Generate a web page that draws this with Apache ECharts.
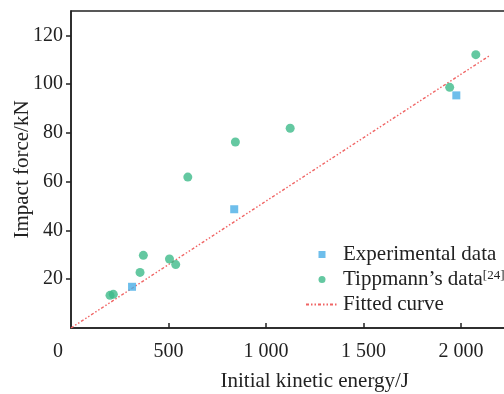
<!DOCTYPE html>
<html>
<head>
<meta charset="utf-8">
<script src="https://cdn.jsdelivr.net/npm/echarts@6/dist/echarts.min.js"></script>
<style>html,body{margin:0;padding:0;background:#fff}#c{width:504px;height:394px}</style>
</head>
<body>
<div id="c"></div>
<script>
const expX = [313, 837, 1976];
const expY = [16.9, 48.7, 95.4];
const tipX = [200, 217, 354, 371, 505, 537, 599, 843, 1124, 1942, 2076];
const tipY = [13.4, 13.8, 22.8, 29.8, 28.3, 26.0, 61.9, 76.3, 81.9, 98.7, 112.1];
const fitX = [0, 2145];
const fitY = [0, 111.6];
const xTickLabels = [0, 500, 1000, 1500, 2000];
const yTickLabels = [20, 40, 60, 80, 100, 120];
const seriesNames = ['Experimental data', 'Tippmann\u2019s data', 'Fitted curve'];

const zip = (a, b) => a.map((v, i) => [v, b[i]]);
const font = 'Liberation Serif';
const red = '#f06464';
const chart = echarts.init(document.getElementById('c'), null, {renderer: 'canvas'});
chart.setOption({
  animation: false,
  backgroundColor: '#fff',
  grid: {left: 71, top: 11, width: 487.5, height: 317, outerBoundsMode: 'none', containLabel: false,
    show: true, borderColor: '#222', borderWidth: 1.5, backgroundColor: 'transparent'},
  legend: {
    orient: 'vertical', left: 300, top: 239, itemWidth: 32, itemHeight: 7, itemGap: 4,
    symbolKeepAspect: true,
    data: [
      {name: seriesNames[0], icon: 'path://M0,0L1,0L1,1L0,1Z'},
      {name: seriesNames[1], icon: 'circle'},
      {name: seriesNames[2], itemStyle: {color: 'rgba(0,0,0,0)', borderWidth: 0, opacity: 0}}
    ],
    textStyle: {fontFamily: font, fontSize: 21, color: '#222',
      rich: {s: {fontFamily: font, fontSize: 13, color: '#222', verticalAlign: 'top', padding: [0, 0, 8, 0]}}},
    formatter: n => n === seriesNames[1] ? n + '{s|[24]}' : n
  },
  xAxis: {
    type: 'value', min: 0, max: 2500,
    name: 'Initial kinetic energy/J', nameLocation: 'middle', nameGap: 43, nameMoveOverlap: false,
    nameTextStyle: {fontFamily: font, fontSize: 21, color: '#222'},
    axisLine: {lineStyle: {color: '#222', width: 1.5}},
    axisTick: {inside: true, length: 5, customValues: xTickLabels.slice(1), lineStyle: {color: '#222', width: 1.5}},
    axisLabel: {customValues: xTickLabels, margin: 14, fontFamily: font, fontSize: 20, color: '#222',
      formatter: v => v === 0 ? '{o|0}' : String(v).replace(/\B(?=(\d{3})+(?!\d))/g, ' '),
      rich: {o: {fontFamily: font, fontSize: 20, color: '#222', padding: [0, 26, 0, 0]}}},
    splitLine: {show: false}
  },
  yAxis: {
    type: 'value', min: 0, max: 130,
    name: 'Impact force/kN', nameLocation: 'middle', nameGap: 38, nameMoveOverlap: false,
    nameTextStyle: {fontFamily: font, fontSize: 21, color: '#222'},
    axisLine: {lineStyle: {color: '#222', width: 1.5}},
    axisTick: {inside: false, length: 5, customValues: yTickLabels, lineStyle: {color: '#222', width: 1.5}},
    axisLabel: {customValues: yTickLabels, margin: 8, fontFamily: font, fontSize: 20, color: '#222'},
    splitLine: {show: false}
  },
  series: [
    {name: seriesNames[0], type: 'scatter', symbol: 'rect', symbolSize: 8, data: zip(expX, expY),
      itemStyle: {color: '#4aaee6'}, z: 3},
    {name: seriesNames[1], type: 'scatter', symbol: 'circle', symbolSize: 9, data: zip(tipX, tipY),
      itemStyle: {color: '#3dba8a'}, z: 3},
    {name: seriesNames[2], type: 'line', symbol: 'none', data: zip(fitX, fitY),
      lineStyle: {color: red, width: 1.4, type: [3, 2, 1.5, 2, 1.5, 2]}, itemStyle: {color: red}, z: 2}
  ]
});
</script>
</body>
</html>
